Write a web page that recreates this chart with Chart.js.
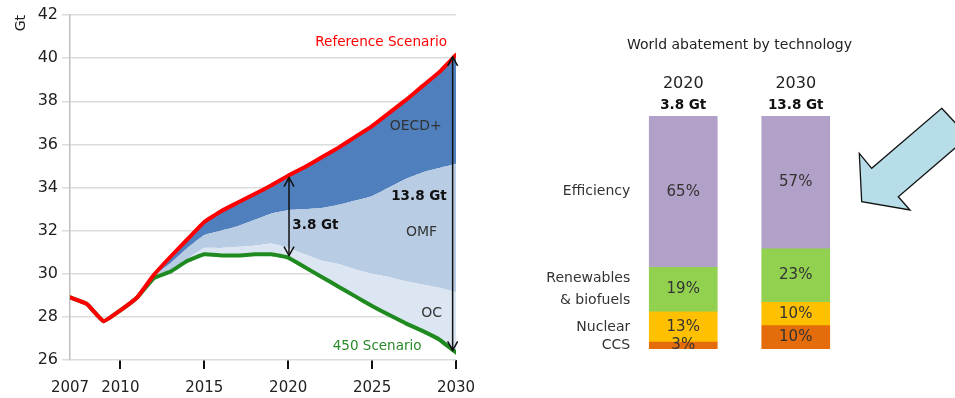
<!DOCTYPE html>
<html>
<head>
<meta charset="utf-8">
<script src="https://cdn.jsdelivr.net/npm/chart.js@4.4.1/dist/chart.umd.min.js"></script>
<style>
  html, body { margin: 0; padding: 0; background: #fff; }
  #wrap { position: relative; width: 955px; height: 398px; overflow: hidden; }
  #left { position: absolute; left: 0; top: 0; width: 500px; height: 398px; }
  #right { position: absolute; left: 520px; top: 0; width: 435px; height: 398px; }
</style>
</head>
<body>
<div id="wrap">
  <div id="left"><canvas id="emissions_cv"></canvas></div>
  <div id="right"><canvas id="abatement_cv"></canvas></div>
</div>
<script>
// energy-related CO2 emissions, Gt
const years = [2007, 2008, 2009, 2010, 2011, 2012, 2013, 2014, 2015, 2016, 2017, 2018,
               2019, 2020, 2021, 2022, 2023, 2024, 2025, 2026, 2027, 2028, 2029, 2030];
const referenceScenario = [28.9, 28.6, 27.8, 28.3, 28.9, 29.95, 30.8, 31.6, 32.4, 32.9, 33.3, 33.7,
                           34.1, 34.55, 34.95, 35.4, 35.85, 36.35, 36.85, 37.45, 38.05, 38.7, 39.35, 40.15];
// upper edge of the OMF wedge (OECD+ sits between this and the reference line)
const omfUpper = [28.9, 28.6, 27.8, 28.3, 28.9, 29.9, 30.5, 31.2, 31.8, 32.0, 32.2, 32.5,
                  32.8, 32.95, 33.0, 33.05, 33.2, 33.4, 33.6, 34.0, 34.4, 34.7, 34.9, 35.1];
// upper edge of the OC wedge
const ocUpper = [28.9, 28.6, 27.8, 28.3, 28.9, 29.8, 30.1, 30.7, 31.2, 31.2, 31.25, 31.3,
                 31.4, 31.2, 30.9, 30.6, 30.45, 30.2, 30.0, 29.85, 29.65, 29.5, 29.35, 29.15];
const scenario450 = [28.9, 28.6, 27.8, 28.3, 28.9, 29.8, 30.1, 30.6, 30.9, 30.85, 30.85, 30.9,
                     30.9, 30.75, 30.3, 29.85, 29.4, 28.95, 28.5, 28.1, 27.7, 27.35, 26.95, 26.35];
const xTicks = [2007, 2010, 2015, 2020, 2025, 2030];

// abatement shares by technology, %
const periods = ['2020', '2030'];
const technologies = [['CCS'], ['Nuclear'], ['Renewables', '& biofuels'], ['Efficiency']];
const ccsShare = [3, 10];
const nuclearShare = [13, 10];
const renewablesShare = [19, 23];
const efficiencyShare = [65, 57];

Chart.defaults.font.family = 'DejaVu Sans';
Chart.defaults.color = '#222';

const pts = arr => years.map((y, i) => ({ x: y, y: arr[i] }));
const gap = yr => {
  const i = years.indexOf(yr);
  return referenceScenario[i] - scenario450[i];
};

function arrowHead(ctx, x, y, dir) {
  ctx.beginPath();
  ctx.moveTo(x - 5, y - dir * 9);
  ctx.lineTo(x, y);
  ctx.lineTo(x + 5, y - dir * 9);
  ctx.stroke();
}

// double arrows, wedge names and scenario names
const emissionsLabels = {
  id: 'emissionsLabels',
  afterDatasetsDraw(chart) {
    const ctx = chart.ctx;
    const xs = chart.scales.x, ys = chart.scales.y;
    ctx.save();
    ctx.strokeStyle = '#111';
    ctx.lineWidth = 1.5;
    [[2020, 2020.05], [2030, 2029.8]].forEach(([yr, at]) => {
      const i = years.indexOf(yr);
      const x = xs.getPixelForValue(at);
      const top = ys.getPixelForValue(referenceScenario[i]) + 2;
      const bottom = ys.getPixelForValue(scenario450[i]) - 2;
      ctx.beginPath();
      ctx.moveTo(x, top);
      ctx.lineTo(x, bottom);
      ctx.stroke();
      arrowHead(ctx, x, top, -1);
      arrowHead(ctx, x, bottom, 1);
    });

    const text = (str, x, y, align, font, color) => {
      ctx.font = font;
      ctx.fillStyle = color;
      ctx.textAlign = align;
      ctx.textBaseline = 'middle';
      ctx.fillText(str, xs.getPixelForValue(x), ys.getPixelForValue(y));
    };
    text(gap(2020).toFixed(1) + ' Gt', 2020.25, 32.26, 'left', 'bold 13.5px "DejaVu Sans"', '#111');
    text(gap(2030).toFixed(1) + ' Gt', 2029.45, 33.56, 'right', 'bold 13.5px "DejaVu Sans"', '#111');
    text('OECD+', 2027.6, 36.82, 'center', '14px "DejaVu Sans"', '#333');
    text('OMF', 2027.95, 31.94, 'center', '14px "DejaVu Sans"', '#333');
    text('OC', 2028.55, 28.18, 'center', '14px "DejaVu Sans"', '#333');
    text('Reference Scenario', 2025.54, 40.72, 'center', '13.6px "DejaVu Sans"', '#ff0000');
    text('450 Scenario', 2025.3, 26.62, 'center', '13.5px "DejaVu Sans"', '#2a8a2a');
    ctx.restore();
  }
};

new Chart('emissions_cv', {
  type: 'line',
  data: {
    datasets: [
      { label: 'Reference Scenario', data: pts(referenceScenario), borderColor: '#ff0000',
        borderWidth: 4, fill: false, order: 0 },
      { label: 'OECD+', data: pts(omfUpper), borderWidth: 0, borderColor: 'rgba(0,0,0,0)',
        backgroundColor: '#4f7fbd', fill: 0, order: 3 },
      { label: 'OMF', data: pts(ocUpper), borderWidth: 0, borderColor: 'rgba(0,0,0,0)',
        backgroundColor: '#b8cce4', fill: 1, order: 2 },
      { label: '450 Scenario', data: pts(scenario450), borderColor: '#1f8a1f',
        borderWidth: 4, backgroundColor: '#dce6f2', fill: 2, order: 1 }
    ]
  },
  options: {
    animation: false,
    responsive: true,
    maintainAspectRatio: false,
    layout: { padding: { top: 15, right: 44, left: 0, bottom: 0 } },
    plugins: { legend: { display: false }, tooltip: { enabled: false } },
    elements: {
      point: { radius: 0 },
      line: { tension: 0.1, borderCapStyle: 'round', borderJoinStyle: 'round' }
    },
    scales: {
      x: {
        type: 'linear', min: 2007, max: 2030,
        afterBuildTicks: s => { s.ticks = xTicks.map(v => ({ value: v })); },
        afterFit: s => { s.height = 38; },
        ticks: { callback: v => String(v), font: { size: 15 }, padding: 10, maxRotation: 0, autoSkip: false },
        grid: {
          drawOnChartArea: false, drawTicks: true, tickLength: 9, lineWidth: 2,
          color: c => (c.tick && c.tick.value === 2007) ? 'rgba(0,0,0,0)' : '#111'
        },
        border: { display: false }
      },
      y: {
        min: 26, max: 42,
        afterFit: s => { s.width = 70; },
        ticks: { stepSize: 2, font: { size: 16 }, padding: 4 },
        grid: { color: '#dcdcdc', lineWidth: 1.5, tickLength: 8 },
        border: { display: true, color: '#c0c0c0', width: 1.5 },
        title: { display: true, text: 'Gt', align: 'end', font: { size: 14 }, padding: { top: 13, bottom: 0 } }
      }
    }
  },
  plugins: [emissionsLabels]
});

// shares inside the bars, technology names, totals on top
const abatementLabels = {
  id: 'abatementLabels',
  afterDatasetsDraw(chart) {
    const ctx = chart.ctx;
    ctx.save();
    ctx.textBaseline = 'middle';
    chart.data.datasets.forEach((ds, di) => {
      const meta = chart.getDatasetMeta(di);
      meta.data.forEach((bar, i) => {
        ctx.font = '15px "DejaVu Sans"';
        ctx.fillStyle = '#333';
        ctx.textAlign = 'center';
        ctx.fillText(ds.data[i] + '%', bar.x, (bar.y + bar.base) / 2);
      });
      // names beside the first bar
      const first = meta.data[0];
      const lines = technologies[di];
      const cy = (first.y + first.base) / 2;
      ctx.font = '14px "DejaVu Sans"';
      ctx.fillStyle = '#333';
      ctx.textAlign = 'right';
      lines.forEach((ln, k) => {
        ctx.fillText(ln, first.x - first.width / 2 - 19, cy + (k - (lines.length - 1) / 2) * 22);
      });
    });
    const top = chart.getDatasetMeta(chart.data.datasets.length - 1);
    top.data.forEach((bar, i) => {
      ctx.font = 'bold 13.5px "DejaVu Sans"';
      ctx.fillStyle = '#111';
      ctx.textAlign = 'center';
      ctx.fillText(gap(+periods[i]).toFixed(1) + ' Gt', bar.x, bar.y - 11);
    });
    ctx.restore();
  }
};

// block arrow at the right edge, pointing down-left at the bars
const blockArrow = {
  id: 'blockArrow',
  afterDraw(chart) {
    const ctx = chart.ctx;
    const ox = chart.width - 435;
    const shape = [[421.7, 108.3], [448.3, 136.7], [378.3, 196.7], [390, 210],
                   [341.7, 201.7], [339.3, 153.3], [351.7, 168.3]];
    ctx.save();
    ctx.beginPath();
    shape.forEach(([x, y], k) => k ? ctx.lineTo(ox + x, y) : ctx.moveTo(ox + x, y));
    ctx.closePath();
    ctx.fillStyle = '#b7dee8';
    ctx.fill();
    ctx.strokeStyle = '#111';
    ctx.lineWidth = 1.3;
    ctx.stroke();
    ctx.restore();
  }
};

new Chart('abatement_cv', {
  type: 'bar',
  data: {
    labels: periods,
    datasets: [
      { label: technologies[0].join(' '), data: ccsShare, backgroundColor: '#e46c0a' },
      { label: technologies[1].join(' '), data: nuclearShare, backgroundColor: '#ffc000' },
      { label: technologies[2].join(' '), data: renewablesShare, backgroundColor: '#92d050' },
      { label: technologies[3].join(' '), data: efficiencyShare, backgroundColor: '#b1a0c7' }
    ]
  },
  options: {
    animation: false,
    responsive: true,
    maintainAspectRatio: false,
    layout: { padding: { left: 107, right: 103, top: 0, bottom: 49 } },
    datasets: { bar: { barThickness: 68, borderWidth: 0 } },
    plugins: {
      legend: { display: false },
      tooltip: { enabled: false },
      title: {
        display: true, text: 'World abatement by technology',
        font: { size: 14.5, weight: 'normal' }, color: '#222',
        padding: { top: 37, bottom: 0 }
      }
    },
    scales: {
      x: {
        stacked: true, position: 'top',
        grid: { display: false, drawTicks: false },
        border: { display: false },
        ticks: { font: { size: 16 }, padding: 23 },
        afterFit: s => { s.height = 61.6; }
      },
      y: { stacked: true, min: 0, max: 100, display: false }
    }
  },
  plugins: [abatementLabels, blockArrow]
});
</script>
</body>
</html>
